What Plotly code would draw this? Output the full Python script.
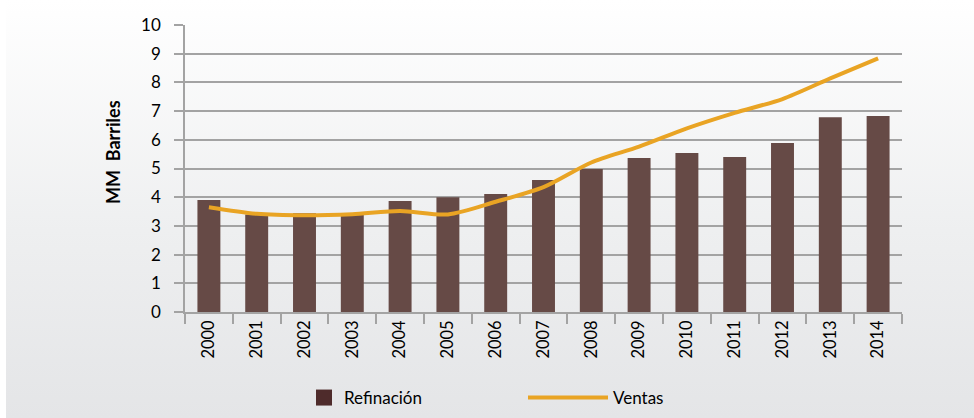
import base64

import plotly.graph_objects as go

# Datos (MM Barriles)
years = [str(y) for y in range(2000, 2015)]
refinacion = [3.90, 3.40, 3.44, 3.40, 3.87, 4.00, 4.11, 4.60, 4.98, 5.37, 5.54, 5.40, 5.89, 6.79, 6.83]
ventas = [3.65, 3.42, 3.37, 3.41, 3.52, 3.40, 3.84, 4.35, 5.21, 5.76, 6.40, 6.94, 7.42, 8.14, 8.84]
y_ticks = list(range(0, 11))

W, H = 974, 418
L, R, T, B = 185, 72, 25, 106
pw, ph = W - L - R, H - T - B

FONT = "Lato, 'Open Sans', sans-serif"
BAR_COLOR = "#664a46"
SWATCH_COLOR = "#4e2b2b"
LINE_COLOR = "#e9a424"
GRID = "#a3a3a3"

# fondo degradado (blanco arriba, gris claro abajo)
svg = (
    '<svg xmlns="http://www.w3.org/2000/svg" width="100" height="100" preserveAspectRatio="none">'
    '<defs><linearGradient id="g" x1="0" y1="0" x2="0" y2="1">'
    '<stop offset="0" stop-color="#ffffff"/><stop offset="0.55" stop-color="#eeeff0"/>'
    '<stop offset="1" stop-color="#e4e5e7"/></linearGradient></defs>'
    '<rect width="100" height="100" fill="url(#g)"/></svg>'
)
bg_uri = "data:image/svg+xml;base64," + base64.b64encode(svg.encode()).decode()

fig = go.Figure()

fig.add_trace(go.Bar(
    x=years, y=refinacion, name="Refinación",
    marker=dict(color=BAR_COLOR, line=dict(width=0)),
    showlegend=False,
))
# entrada de leyenda para las barras (color más oscuro, como en el original)
fig.add_trace(go.Scatter(
    x=[None], y=[None], mode="markers", name="Refinación",
    marker=dict(symbol="square", size=17, color=SWATCH_COLOR),
    legend="legend",
))
fig.add_trace(go.Scatter(
    x=years, y=ventas, name="Ventas", mode="lines",
    line=dict(color=LINE_COLOR, width=4, shape="spline", smoothing=0.8),
    legend="legend2",
))

leg_y = 1 - (398 - T) / ph

fig.update_layout(
    width=W, height=H,
    margin=dict(l=L, r=R, t=T, b=B, autoexpand=False),
    paper_bgcolor="white",
    plot_bgcolor="rgba(0,0,0,0)",
    font=dict(family=FONT, size=16, color="#000000"),
    bargap=0.52,
    images=[dict(
        source=bg_uri, xref="paper", yref="paper",
        x=(6 - L) / pw, y=1 + T / ph,
        sizex=(W - 6) / pw, sizey=H / ph,
        xanchor="left", yanchor="top", sizing="stretch", layer="below",
    )],
    xaxis=dict(
        type="category", tickangle=-90, tickfont=dict(size=16.5),
        showline=True, linecolor=GRID, linewidth=1.5,
        ticks="outside", ticklen=10, tickcolor=GRID, tickwidth=1.5,
        tickson="boundaries", showgrid=False,
    ),
    yaxis=dict(
        range=[0, 10], tickvals=y_ticks, tickfont=dict(size=17),
        showline=True, linecolor=GRID, linewidth=1.5,
        ticks="outside", ticklen=9, tickcolor=GRID, tickwidth=1.5,
        showgrid=True, gridcolor=GRID, gridwidth=1.5,
        zeroline=False, ticklabelstandoff=10,
    ),
    legend=dict(
        orientation="h", x=(304 - L) / pw, y=leg_y, xanchor="left", yanchor="middle",
        bgcolor="rgba(0,0,0,0)", font=dict(size=17), itemwidth=30,
    ),
    legend2=dict(
        orientation="h", x=(523 - L) / pw, y=leg_y, xanchor="left", yanchor="middle",
        bgcolor="rgba(0,0,0,0)", font=dict(size=17), itemwidth=80,
    ),
    annotations=[dict(
        text="<b>MM  Barriles</b>", textangle=-90, showarrow=False,
        xref="paper", yref="paper", x=(113 - L) / pw, y=1 - (152 - T) / ph,
        xanchor="center", yanchor="middle", font=dict(size=18),
    )],
)

fig.write_html(
    "out.html",
    config={"displayModeBar": False},
    post_script="document.body.style.margin='0';document.body.style.overflow='hidden';",
)
